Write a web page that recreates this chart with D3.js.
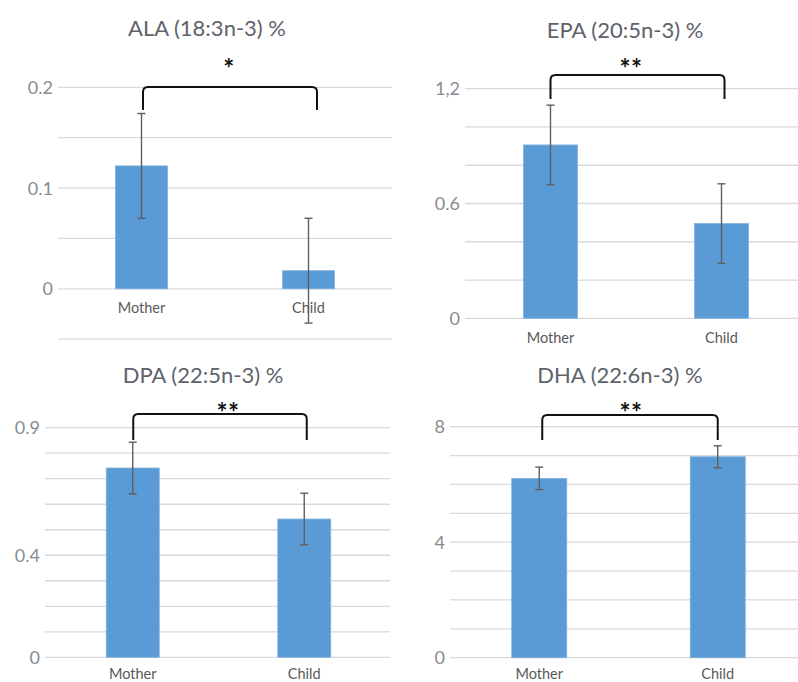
<!DOCTYPE html>
<html>
<head>
<meta charset="utf-8">
<script src="https://cdn.jsdelivr.net/npm/d3@7"></script>
<style>
  html, body { margin: 0; padding: 0; background: #ffffff; }
  svg { display: block; font-family: Lato, "Open Sans", sans-serif; }
</style>
</head>
<body>
<svg id="chart" width="798" height="682"></svg>
<script>
// Omega-3 fatty acids (% of total), mother vs child, mean ± error
const categories = ["Mother", "Child"];
const titles = ["ALA (18:3n-3) %", "EPA (20:5n-3) %", "DPA (22:5n-3) %", "DHA (22:6n-3) %"];
const meanALA = [0.122, 0.018];
const errALA = [0.052, 0.052];
const meanEPA = [0.906, 0.495];
const errEPA = [0.208, 0.208];
const meanDPA = [0.742, 0.542];
const errDPA = [0.101, 0.101];
const meanDHA = [6.21, 6.96];
const errDHA = [0.39, 0.38];
const domains = [[-0.05, 0.2], [0, 1.2], [0, 0.9], [0, 8]];
const gridSteps = [0.05, 0.2, 0.1, 1];
const tickValues = [[0, 0.1, 0.2], [0, 0.6, 1.2], [0, 0.4, 0.9], [0, 4, 8]];
const tickLabels = [["0", "0.1", "0.2"], ["0", "0.6", "1,2"], ["0", "0.4", "0.9"], ["0", "4", "8"]];
const significance = ["*", "**", "**", "**"];

const means = [meanALA, meanEPA, meanDPA, meanDHA];
const errors = [errALA, errEPA, errDPA, errDHA];

// Placement of each small panel on the page
const layout = [
  { x0: 58,  x1: 392, gx0: 58,  gx1: 392, yBottom: 339.2, yTop: 87.3,  barW: 52, catY: 308,
    titleX: 207, titleY: 28,  starX: 229, starY: 62,
    brTop: 87,  brEnd: 110, brL: 1.5, brR: 8.5 },
  { x0: 465, x1: 807, gx0: 465, gx1: 798, yBottom: 318.3, yTop: 88.7,  barW: 54, catY: 337.5,
    titleX: 625, titleY: 30,  starX: 631, starY: 62,
    brTop: 75,  brEnd: 99,  brL: 0,   brR: 3 },
  { x0: 47,  x1: 390, gx0: 45,  gx1: 390, yBottom: 657.3, yTop: 427.7, barW: 53, catY: 673.5,
    titleX: 203, titleY: 375, starX: 228, starY: 406,
    brTop: 414, brEnd: 440, brL: 0.5, brR: 2.5 },
  { x0: 450, x1: 807, gx0: 450, gx1: 798, yBottom: 657.7, yTop: 426.7, barW: 55, catY: 673.5,
    titleX: 620, titleY: 375, starX: 631, starY: 406,
    brTop: 415, brEnd: 440, brL: 3,   brR: 0 }
];

const svg = d3.select("#chart");

layout.forEach((L, i) => {
  const g = svg.append("g");
  const x = d3.scaleBand().domain(categories).range([L.x0, L.x1]).padding(0);
  const y = d3.scaleLinear().domain(domains[i]).range([L.yBottom, L.yTop]);
  const cx = c => x(c) + x.bandwidth() / 2;

  // horizontal gridlines
  const [lo, hi] = domains[i];
  const step = gridSteps[i];
  const n = Math.round((hi - lo) / step);
  const gridVals = d3.range(n + 1).map(k => lo + k * step);
  g.selectAll(".grid").data(gridVals).join("line")
    .attr("x1", L.gx0).attr("x2", L.gx1)
    .attr("y1", d => y(d)).attr("y2", d => y(d))
    .attr("stroke", "#d9d9d9").attr("stroke-width", 1.3);

  // y tick labels
  const labels = tickLabels[i];
  g.selectAll(".tick").data(tickValues[i]).join("text")
    .attr("x", L.gx0 - 5).attr("y", d => y(d))
    .attr("dy", "0.36em").attr("text-anchor", "end")
    .attr("font-size", 18).attr("fill", "#878c93")
    .text((d, k) => labels[k]);

  // bars
  const data = categories.map((c, k) => ({ c, m: means[i][k], e: errors[i][k] }));
  g.selectAll(".bar").data(data).join("rect")
    .attr("x", d => cx(d.c) - L.barW / 2)
    .attr("width", L.barW)
    .attr("y", d => y(Math.max(0, d.m)))
    .attr("height", d => Math.abs(y(d.m) - y(0)))
    .attr("fill", "#5b9bd5")
    .attr("stroke", "#7fb2e0").attr("stroke-width", 0.8);

  // error bars
  const eb = g.selectAll(".err").data(data).join("g")
    .attr("stroke", "#5f5f5f").attr("stroke-width", 1.4);
  eb.append("line")
    .attr("x1", d => cx(d.c)).attr("x2", d => cx(d.c))
    .attr("y1", d => y(d.m + d.e)).attr("y2", d => y(d.m - d.e));
  [1, -1].forEach(s => {
    eb.append("line")
      .attr("x1", d => cx(d.c) - 4).attr("x2", d => cx(d.c) + 4)
      .attr("y1", d => y(d.m + s * d.e)).attr("y2", d => y(d.m + s * d.e));
  });

  // category labels
  g.selectAll(".cat").data(categories).join("text")
    .attr("x", d => cx(d))
    .attr("y", L.catY)
    .attr("dy", "0.35em").attr("text-anchor", "middle")
    .attr("font-size", 14.5).attr("fill", "#595959")
    .text(d => d);

  // title
  g.append("text")
    .attr("x", L.titleX).attr("y", L.titleY).attr("dy", "0.35em")
    .attr("text-anchor", "middle").attr("font-size", 22).attr("fill", "#5d636b")
    .text(titles[i]);

  // significance bracket
  const bl = cx(categories[0]) + L.brL;
  const br = cx(categories[1]) + L.brR;
  const r = 5;
  const path = d3.path();
  path.moveTo(bl, L.brEnd);
  path.lineTo(bl, L.brTop + r);
  path.quadraticCurveTo(bl, L.brTop, bl + r, L.brTop);
  path.lineTo(br - r, L.brTop);
  path.quadraticCurveTo(br, L.brTop, br, L.brTop + r);
  path.lineTo(br, L.brEnd);
  g.append("path").attr("d", path.toString())
    .attr("fill", "none").attr("stroke", "#111").attr("stroke-width", 2);

  g.append("text")
    .attr("x", L.starX).attr("y", L.starY + 15.5)
    .attr("text-anchor", "middle").attr("font-size", 26).attr("font-weight", "bold")
    .attr("fill", "#111").attr("letter-spacing", 0.5)
    .text(significance[i]);
});
</script>
</body>
</html>
